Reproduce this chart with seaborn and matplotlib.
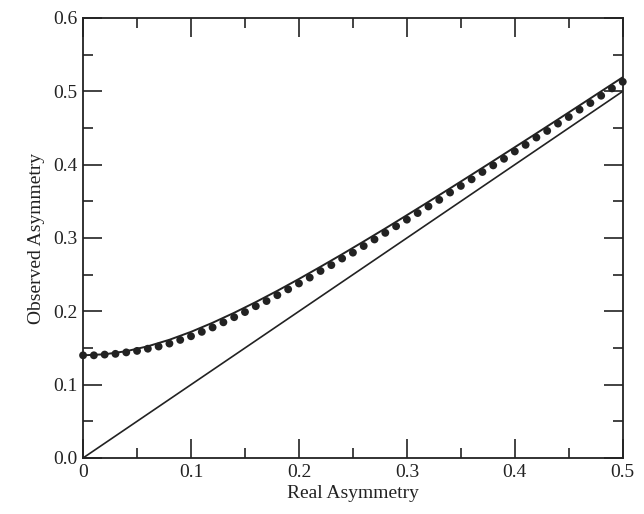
import matplotlib
matplotlib.use("Agg")
import matplotlib.pyplot as plt
import seaborn as sns
import pandas as pd
from matplotlib.ticker import MultipleLocator, FixedLocator

# Data
curve_x = [0.00, 0.02, 0.04, 0.06, 0.08, 0.10, 0.12, 0.14, 0.16, 0.18, 0.20, 0.22, 0.24,
           0.26, 0.28, 0.30, 0.32, 0.34, 0.36, 0.38, 0.40, 0.42, 0.44, 0.46, 0.48, 0.50]
curve_y = [0.1400, 0.1414, 0.1456, 0.1523, 0.1612, 0.1720, 0.1844, 0.1980, 0.2126, 0.2280,
           0.2441, 0.2608, 0.2778, 0.2953, 0.3130, 0.3311, 0.3493, 0.3677, 0.3863, 0.4050,
           0.4238, 0.4427, 0.4617, 0.4808, 0.5000, 0.5192]

dots_x = [i / 100 for i in range(51)]
dots_y = [0.140, 0.140, 0.141, 0.142, 0.144, 0.146, 0.149, 0.152, 0.156, 0.161,
          0.166, 0.172, 0.178, 0.185, 0.192, 0.199, 0.207, 0.214, 0.222, 0.230,
          0.238, 0.246, 0.255, 0.263, 0.272, 0.280, 0.289, 0.298, 0.307, 0.316,
          0.325, 0.334, 0.343, 0.352, 0.362, 0.371, 0.380, 0.390, 0.399, 0.408,
          0.418, 0.427, 0.437, 0.446, 0.456, 0.465, 0.475, 0.484, 0.494, 0.504,
          0.513]

diag_x = [0.0, 0.5]
diag_y = [0.0, 0.5]

x_ticks = [0.0, 0.1, 0.2, 0.3, 0.4, 0.5]
x_tick_labels = ["0", "0.1", "0.2", "0.3", "0.4", "0.5"]
y_ticks = [0.0, 0.1, 0.2, 0.3, 0.4, 0.5, 0.6]
y_tick_labels = ["0.0", "0.1", "0.2", "0.3", "0.4", "0.5", "0.6"]

sns.set_theme(style="ticks")
plt.rcParams['font.family'] = ['Liberation Serif', 'DejaVu Serif']

fig = plt.figure(figsize=(6.44, 5.14), dpi=100)
ax = fig.add_axes([0.129, 0.109, 0.838, 0.856])

sns.lineplot(x=diag_x, y=diag_y, ax=ax, color="#222222", linewidth=1.2)
sns.lineplot(x=curve_x, y=curve_y, ax=ax, color="#222222", linewidth=1.4)
sns.scatterplot(x=dots_x, y=dots_y, ax=ax, color="#222222", s=32, edgecolor="none", zorder=5, clip_on=False)

ax.set_xlim(0, 0.5)
ax.set_ylim(0, 0.6)
ax.xaxis.set_major_locator(FixedLocator(x_ticks))
ax.set_xticklabels(x_tick_labels)
ax.yaxis.set_major_locator(FixedLocator(y_ticks))
ax.set_yticklabels(y_tick_labels)
ax.xaxis.set_minor_locator(MultipleLocator(0.05))
ax.yaxis.set_minor_locator(MultipleLocator(0.05))

ax.tick_params(which="both", direction="in", top=True, right=True, color="#222222", width=1.2)
ax.tick_params(which="major", length=14, labelsize=14, pad=4)
ax.tick_params(which="minor", length=7)
for s in ax.spines.values():
    s.set_linewidth(1.3)
    s.set_color("#222222")

ax.set_xlabel("Real Asymmetry", fontsize=14, color="#222222", labelpad=3)
ax.set_ylabel("Observed Asymmetry", fontsize=14, color="#222222", labelpad=6)
for lab in ax.get_xticklabels() + ax.get_yticklabels():
    lab.set_color("#222222")

fig.savefig("out.png", dpi=100)
